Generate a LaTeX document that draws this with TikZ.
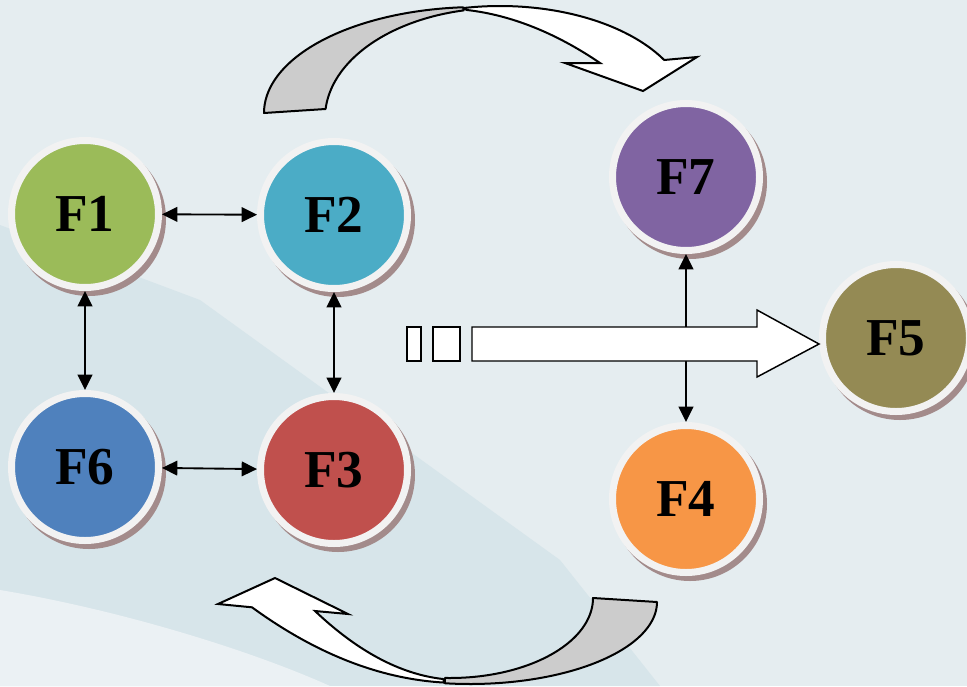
\documentclass[tikz,border=0pt]{standalone}
\usepackage{fontspec}
\setmainfont{Liberation Serif}
\usetikzlibrary{arrows.meta,calc}
\definecolor{bgA}{HTML}{E5EDF0}
\definecolor{bgB}{HTML}{D7E5EA}
\definecolor{bgC}{HTML}{EBF1F4}
\definecolor{cF1}{HTML}{9BBB59}
\definecolor{cF2}{HTML}{4BACC6}
\definecolor{cF3}{HTML}{C0504D}
\definecolor{cF4}{HTML}{F79646}
\definecolor{cF5}{HTML}{948A54}
\definecolor{cF6}{HTML}{4F81BD}
\definecolor{cF7}{HTML}{8064A2}
\definecolor{ringcol}{HTML}{F2F2F2}
\definecolor{shadecol}{HTML}{A38B8B}
\definecolor{backgray}{HTML}{CCCCCC}
\begin{document}
\begin{tikzpicture}[x=0.75pt,y=-0.75pt,
  fnode/.style={circle, fill=#1, draw=ringcol, line width=5.25pt, minimum size=110.25pt, inner sep=0pt, font=\fontsize{40}{40}\selectfont\bfseries},
  link/.style={{Triangle[length=11.5pt,width=11pt]}-{Triangle[length=11.5pt,width=11pt]}, line width=1.4pt, draw=black},
  bandgray/.style={fill=backgray, draw=black, line width=1.5pt, line join=round},
  bandwhite/.style={fill=white, draw=black, line width=1.5pt, line join=miter},
  boxarrow/.style={fill=white, draw=black, line width=1.1pt, line join=miter},
  shadowdisk/.style={fill=shadecol}
]
\useasboundingbox (0,0) rectangle (967,686);
\clip (0,0) rectangle (967,686);
% background
\fill[bgA] (0,0) rectangle (967,686);
\fill[bgB] (0,225) -- (200,300) -- (560,560) -- (660,686) -- (0,686) -- cycle;
\fill[bgC] (0,590) .. controls (120,610) and (250,650) .. (330,686) -- (0,686) -- cycle;

% centres
\coordinate (p1) at (85,214);
\coordinate (p2) at (334,215);
\coordinate (p3) at (334,470);
\coordinate (p4) at (686,499);
\coordinate (p5) at (896,338);
\coordinate (p6) at (85,467);
\coordinate (p7) at (686,177);

% shadows
\foreach \p in {p1,p2,p3,p4,p5,p6,p7}
  \fill[shadowdisk] ($(\p)+(4,5)$) circle[radius=57.75pt];

% nodes
\node[fnode=cF1] (F1) at (p1) {F1};
\node[fnode=cF2] (F2) at (p2) {F2};
\node[fnode=cF3] (F3) at (p3) {F3};
\node[fnode=cF4] (F4) at (p4) {F4};
\node[fnode=cF5] (F5) at (p5) {F5};
\node[fnode=cF6] (F6) at (p6) {F6};
\node[fnode=cF7] (F7) at (p7) {F7};

% links
\draw[link] (F1) -- (F2);
\draw[link] (F1) -- (F6);
\draw[link] (F2) -- (F3);
\draw[link] (F6) -- (F3);
\draw[link] (F7) -- (F4);

% big arrow
\draw[boxarrow] (407,327) rectangle (421,361);
\draw[boxarrow] (433,327) rectangle (460,361);
\draw[boxarrow] (472,327) -- (757,327) -- (757,310) -- (819,344) -- (757,377) -- (757,361) -- (472,361) -- cycle;

% top curved arrow
\draw[bandwhite] plot[domain=258.7:330.3,samples=60] ({500+189*cos(\x)},{113+107*sin(\x)})
  -- (697,57) -- (643,91) -- (565,63) -- (600,63)
  .. controls (556,33) and (511,15) .. (467,10) -- cycle;
\draw[bandgray] plot[domain=180:266,samples=60] ({478+214*cos(\x)},{113+106*sin(\x)})
  -- plot[domain=258:184.7,samples=60] ({500+175*cos(\x)},{118+110*sin(\x)}) -- cycle;

% bottom curved arrow
\draw[bandwhite] (445,682.6) .. controls (380.7,679.2) and (316.3,654.1) .. (252,607.3)
  -- (218,604) -- (275,578) -- (348,614) -- (315,611)
  .. controls (357.7,651.4) and (400.3,674.2) .. (443,679) -- cycle;
\draw[bandgray] plot[domain=0:97.7,samples=60] ({470+187*cos(\x)},{602+82*sin(\x)})
  -- plot[domain=92:0,samples=60] ({450+143*cos(\x)},{598+80*sin(\x)}) -- cycle;
\end{tikzpicture}
\end{document}
